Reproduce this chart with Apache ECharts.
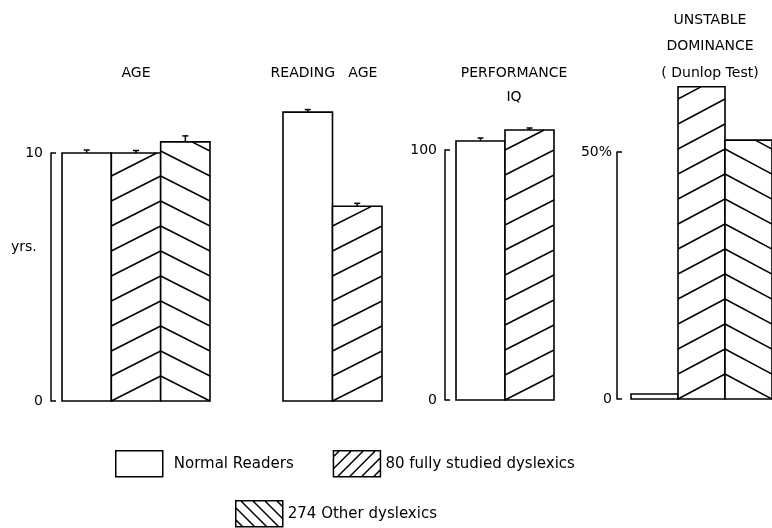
<!DOCTYPE html>
<html>
<head>
<meta charset="utf-8">
<script src="https://cdn.jsdelivr.net/npm/echarts@6/dist/echarts.min.js"></script>
<style>html,body{margin:0;padding:0;background:#fff}#chart{width:772px;height:528px}</style>
</head>
<body>
<div id="chart"></div>
<script>
// ---------- data ----------
const groupNames = ['Normal Readers', '80 fully studied dyslexics', '274 Other dyslexics'];
const panelTitles = ['AGE', 'READING   AGE', 'PERFORMANCE\nIQ', 'UNSTABLE\nDOMINANCE\n( Dunlop Test)'];
const ageValues = [10.0, 10.0, 10.45];
const ageErrors = [0.12, 0.1, 0.24];
const readingAgeValues = [11.65, 7.85];
const readingAgeErrors = [0.1, 0.12];
const iqValues = [103.6, 108.0];
const iqErrors = [1.2, 0.8];
const dominanceValues = [1.0, 63.2, 52.4];
const dominanceErrors = [0, 0, 0];
const ageTickLabels = ['0', '10'];
const iqTickLabels = ['0', '100'];
const dominanceTickLabels = ['0', '50%'];
const ageUnit = 'yrs.';

// ---------- styling / layout ----------
const FONT = 'DejaVu Sans';
const HATCH_STEP = 25;
const hatchTypes = ['none', 'up', 'down'];
const panels = [
  {title: panelTitles[0], groups: [0, 1, 2], values: ageValues, errors: ageErrors, max: 10, ticks: ageTickLabels, showAxis: true},
  {title: panelTitles[1], groups: [0, 1], values: readingAgeValues, errors: readingAgeErrors, max: 10, ticks: ageTickLabels, showAxis: false},
  {title: panelTitles[2], groups: [0, 1], values: iqValues, errors: iqErrors, max: 100, ticks: iqTickLabels, showAxis: true},
  {title: panelTitles[3], groups: [0, 1, 2], values: dominanceValues, errors: dominanceErrors, max: 50, ticks: dominanceTickLabels, showAxis: true}
];
const layout = [
  {left: 62, width: 148, top: 153, bottom: 127, offset: 11, margin: 8, titleX: 136, titleTop: 61, lh: 24},
  {left: 283, width: 99, top: 153, bottom: 127, offset: 0, margin: 8, titleX: 324, titleTop: 61, lh: 24},
  {left: 456, width: 98, top: 150, bottom: 128, offset: 11, margin: 8, titleX: 514, titleTop: 61, lh: 24},
  {left: 631, width: 146, top: 152, bottom: 129, offset: 14, margin: 5, titleX: 710, titleTop: 7, lh: 26.5}
];

function makeRender(hatch) {
  return function (params, api) {
    const ci = api.value(0), v = api.value(1), e = api.value(2);
    const base = api.coord([ci, 0]);
    const top = api.coord([ci, v]);
    const w = api.size([1, 0])[0];
    const x0 = base[0] - w / 2, x1 = base[0] + w / 2;
    const yb = base[1], yt = top[1];
    const children = [{type: 'rect', shape: {x: x0, y: yt, width: w, height: yb - yt},
      style: {fill: '#fff', stroke: '#000', lineWidth: 1.6}}];
    if (hatch !== 'none') {
      const s = HATCH_STEP;
      for (let k = 0; yb - k * s > yt + 0.5; k++) {
        const lo = yb - k * s, hi = yb - (k + 1) * s;
        let ax = x0, ay, bx = x1, by;
        if (hatch === 'up') {
          ay = lo; by = hi;
          if (by < yt) { const t = (ay - yt) / (ay - by); bx = x0 + t * w; by = yt; }
        } else {
          ay = hi; by = lo;
          if (ay < yt) { const t = (yt - ay) / (by - ay); ax = x0 + t * w; ay = yt; }
        }
        children.push({type: 'line', shape: {x1: ax, y1: ay, x2: bx, y2: by}, style: {stroke: '#000', lineWidth: 1.5}});
      }
    }
    if (e > 0) {
      const ye = api.coord([ci, v + e])[1];
      children.push({type: 'line', shape: {x1: base[0], y1: yt, x2: base[0], y2: ye}, style: {stroke: '#000', lineWidth: 1.5}});
      children.push({type: 'line', shape: {x1: base[0] - 3, y1: ye, x2: base[0] + 3, y2: ye}, style: {stroke: '#000', lineWidth: 1.5}});
    }
    return {type: 'group', children};
  };
}

function iconPath(dir) {
  const W = 47, H = 26, step = 12;
  let d = 'M0,0H' + W + 'V' + H + 'H0Z';
  for (let c = -H + 6; c < W; c += step) {
    let xa = c, ya = H, xb = c + H, yb = 0;
    if (xa < 0) { ya = H + xa; xa = 0; }
    if (xb > W) { yb = xb - W; xb = W; }
    if (dir === 'down') { xa = W - xa; xb = W - xb; }
    d += 'M' + xa.toFixed(1) + ',' + ya.toFixed(1) + 'L' + xb.toFixed(1) + ',' + yb.toFixed(1);
  }
  return 'path://' + d;
}
const legendIcons = ['path://M0,0H47V26H0Z', iconPath('up'), iconPath('down')];

const grid = [], xAxis = [], yAxis = [], series = [], title = [];
panels.forEach((p, pi) => {
  const L = layout[pi];
  grid.push({left: L.left, width: L.width, top: L.top, bottom: L.bottom});
  xAxis.push({type: 'category', gridIndex: pi, data: p.groups.map(g => groupNames[g]), show: false});
  yAxis.push({
    type: 'value', gridIndex: pi, min: 0, max: p.max, interval: p.max, show: p.showAxis, offset: L.offset,
    axisLine: {show: true, lineStyle: {color: '#000', width: 1.5}},
    axisTick: {show: true, inside: true, length: 5, lineStyle: {color: '#000', width: 1.5}},
    axisLabel: {margin: L.margin, color: '#000', fontFamily: FONT, fontSize: 14,
      formatter: val => (val === 0 ? p.ticks[0] : p.ticks[1])},
    splitLine: {show: false}
  });
  title.push({text: p.title, left: L.titleX, top: L.titleTop, textAlign: 'center', padding: 0,
    textStyle: {fontFamily: FONT, fontSize: 14, fontWeight: 'normal', color: '#000', lineHeight: L.lh}});
  p.groups.forEach((g, ci) => {
    series.push({
      type: 'custom', name: groupNames[g], xAxisIndex: pi, yAxisIndex: pi, clip: false,
      renderItem: makeRender(hatchTypes[g]),
      itemStyle: {color: '#fff', borderColor: '#000'},
      encode: {x: 0, y: 1},
      data: [[ci, p.values[ci], p.errors[ci]]]
    });
  });
});

const legendCommon = {
  orient: 'horizontal', padding: 0, itemWidth: 47, itemHeight: 26, selectedMode: false,
  textStyle: {fontFamily: FONT, fontSize: 15, color: '#000'},
  itemStyle: {color: '#fff', borderColor: '#000', borderWidth: 1.5}
};

const option = {
  backgroundColor: '#fff',
  animation: false,
  title, grid, xAxis, yAxis, series,
  legend: [
    Object.assign({}, legendCommon, {left: 115, top: 450, itemGap: 39,
      data: [{name: groupNames[0], icon: legendIcons[0], textStyle: {padding: [0, 0, 0, 6]}},
             {name: groupNames[1], icon: legendIcons[1]}]}),
    Object.assign({}, legendCommon, {left: 235, top: 500,
      data: [{name: groupNames[2], icon: legendIcons[2]}]})
  ],
  graphic: [{type: 'text', left: 11, top: 240, style: {text: ageUnit, fontFamily: FONT, fontSize: 14, fill: '#000'}}]
};

const chart = echarts.init(document.getElementById('chart'), null, {renderer: 'canvas'});
chart.setOption(option);
</script>
</body>
</html>
